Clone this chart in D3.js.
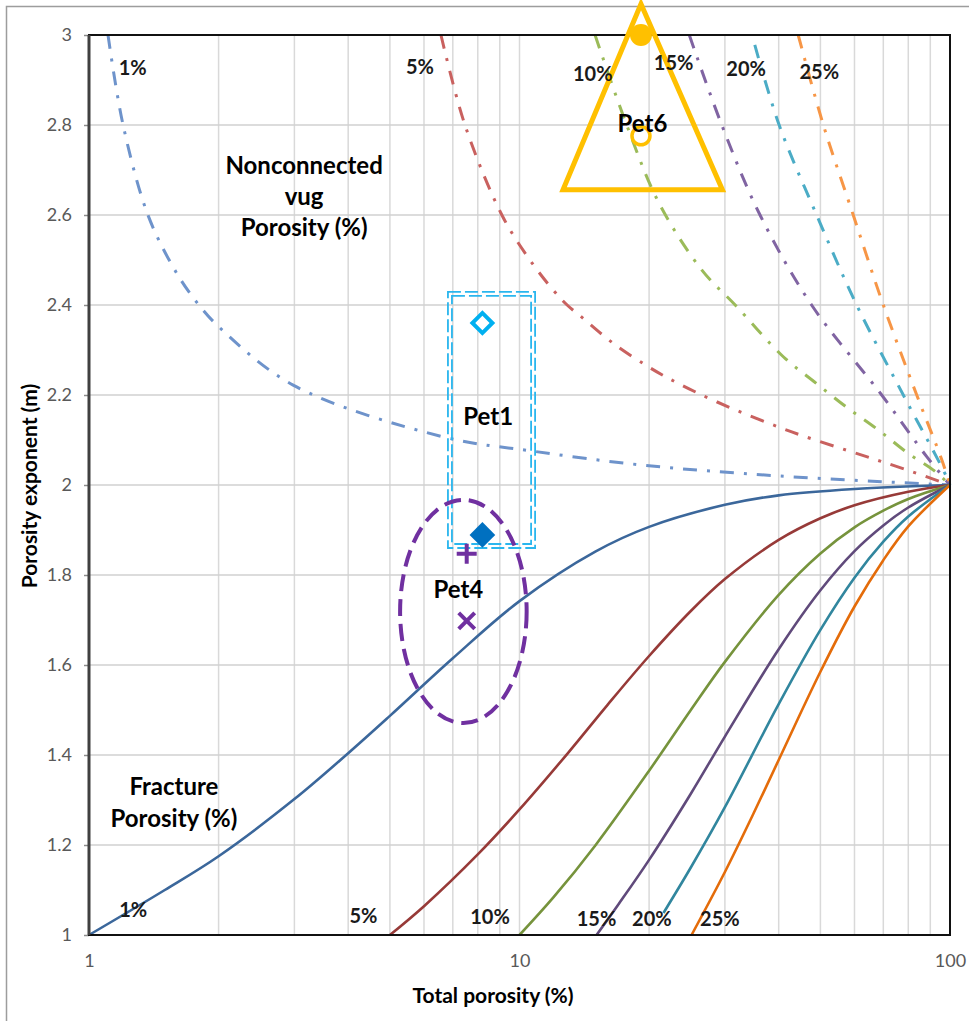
<!DOCTYPE html>
<html>
<head>
<meta charset="utf-8">
<script src="https://cdn.jsdelivr.net/npm/d3@7"></script>
<style>
body { margin: 0; background: #fff; }
svg text { font-family: Lato, "Open Sans", sans-serif; }
</style>
</head>
<body>
<script>
// [total porosity %, porosity exponent m]
var fracLabels = ["1%", "5%", "10%", "15%", "20%", "25%"];
var frac1 = [[1, 1], [1.5, 1.1], [2, 1.175], [3, 1.302], [4, 1.404], [5, 1.487], [7, 1.615], [10, 1.742], [15, 1.852], [20, 1.907], [30, 1.956], [40, 1.977], [60, 1.991], [100, 2]];
var frac5 = [[5, 1], [6, 1.064], [8, 1.179], [10, 1.279], [13, 1.406], [16, 1.511], [20, 1.62], [25, 1.72], [30, 1.791], [40, 1.878], [50, 1.926], [60, 1.955], [80, 1.985], [100, 2]];
var frac10 = [[10, 1], [12, 1.084], [15, 1.199], [20, 1.365], [25, 1.5], [30, 1.607], [40, 1.756], [50, 1.848], [60, 1.906], [70, 1.943], [80, 1.969], [100, 2]];
var frac15 = [[15.1, 1], [17, 1.069], [20, 1.167], [25, 1.314], [30, 1.441], [40, 1.635], [50, 1.766], [60, 1.853], [70, 1.91], [80, 1.95], [100, 2]];
var frac20 = [[21.6, 1.049], [25, 1.15], [30, 1.284], [40, 1.513], [50, 1.678], [60, 1.794], [70, 1.874], [80, 1.93], [100, 2]];
var frac25 = [[25.1, 1], [30, 1.14], [35, 1.271], [40, 1.389], [50, 1.585], [60, 1.73], [70, 1.833], [80, 1.908], [100, 2]];

var vugLabels = ["1%", "5%", "10%", "15%", "20%", "25%"];
var vug1 = [[1.107, 3], [1.2, 2.8], [1.373, 2.598], [1.6, 2.47], [1.8, 2.4], [2.0, 2.352], [2.98, 2.222], [6.65, 2.107], [10.77, 2.075], [19.4, 2.044], [40.2, 2.02], [100, 2]];
var vug5 = [[6.57, 3], [7.47, 2.8], [9.1, 2.6], [10.5, 2.504], [11.98, 2.433], [12.9, 2.4], [13.95, 2.373], [16.5, 2.315], [19.75, 2.265], [22.2, 2.237], [28.7, 2.185], [42.9, 2.118], [64, 2.063], [78.6, 2.035], [100, 2]];
var vug10 = [[14.98, 3], [17.74, 2.8], [21.1, 2.626], [26.5, 2.478], [31.7, 2.4], [41, 2.285], [48.3, 2.23], [57.3, 2.174], [68.2, 2.122], [80, 2.07], [91.5, 2.033], [100, 2]];
var vug15 = [[24.8, 3], [29.5, 2.8], [36.2, 2.6], [47.7, 2.4], [69.4, 2.2], [88.3, 2.063], [100, 2]];
var vug20 = [[35.2, 2.978], [40.1, 2.8], [49, 2.6], [60.7, 2.4], [77.9, 2.2], [96.5, 2.033], [100, 2]];
var vug25 = [[44.4, 3], [50.8, 2.8], [59.6, 2.6], [70, 2.4], [83.7, 2.2], [95.7, 2.056], [100, 2]];

// label anchors (porosity %, m)
var fracLabelPos = [[1.267, 1.056], [4.34, 1.042], [8.54, 1.041], [15.1, 1.037], [20.3, 1.037], [29.2, 1.037]];
var vugLabelPos = [[1.263, 2.927], [5.87, 2.93], [14.8, 2.913], [22.8, 2.939], [33.6, 2.926], [49.7, 2.918]];

// samples
var pet6 = [[19.15, 3.0], [19.15, 2.776]];
var pet6Triangle = [[19.15, 3.069], [12.62, 2.656], [29.6, 2.656]];
var pet1 = [[8.2, 2.36], [8.2, 1.889]];
var pet1Box = [[6.82, 2.429], [10.87, 1.86]];
var pet4 = [[7.54, 1.847], [7.54, 1.698]];
var pet4Ellipse = [[5.28, 1.967], [10.39, 1.471]];
var petNames = ["Pet6", "Pet1", "Pet4"];
var petLabelPos = [[19.3, 2.804], [8.46, 2.152], [7.21, 1.767]];

var xTicks = [1, 10, 100];
var yTicks = [1, 1.2, 1.4, 1.6, 1.8, 2, 2.2, 2.4, 2.6, 2.8, 3];
var xGrid = [2, 3, 4, 5, 6, 7, 8, 9, 10, 20, 30, 40, 50, 60, 70, 80, 90];

var fracColors = ["#3b679b", "#973a38", "#76933c", "#604a7b", "#31869e", "#e46c0a"];
var vugColors = ["#6e93cb", "#c9615f", "#9bbb59", "#8064a2", "#4bacc6", "#f79646"];

var width = 969, height = 1021;
var margin = {left: 89, right: 19, top: 35, bottom: 86};

var x = d3.scaleLog().domain([1, 100]).range([margin.left, width - margin.right]);
var y = d3.scaleLinear().domain([1, 3]).range([height - margin.bottom, margin.top]);

var svg = d3.select('body').append('svg')
    .attr('width', width)
    .attr('height', height);

svg.append('rect').attr('width', width).attr('height', height).attr('fill', '#fff');
// outer chart border
svg.append('rect')
    .attr('x', 6.5).attr('y', 6.5)
    .attr('width', width + 20).attr('height', height + 20)
    .attr('fill', 'none').attr('stroke', '#9d9d9d').attr('stroke-width', 1.5);

// grid
svg.append('g').selectAll('line').data(xGrid).enter().append('line')
    .attr('x1', function(d) { return x(d); }).attr('x2', function(d) { return x(d); })
    .attr('y1', y(1)).attr('y2', y(3))
    .attr('stroke', '#d9d9d9').attr('stroke-width', 1.5);
svg.append('g').selectAll('line').data(yTicks.slice(1, -1)).enter().append('line')
    .attr('x1', x(1)).attr('x2', x(100))
    .attr('y1', function(d) { return y(d); }).attr('y2', function(d) { return y(d); })
    .attr('stroke', '#d0d0d0').attr('stroke-width', 1.5);

var line = d3.line()
    .x(function(d) { return x(d[0]); })
    .y(function(d) { return y(d[1]); })
    .curve(d3.curveCatmullRom.alpha(0.5));

var vugCurves = [vug1, vug5, vug10, vug15, vug20, vug25];
var fracCurves = [frac1, frac5, frac10, frac15, frac20, frac25];

svg.append('g').selectAll('path').data(vugCurves).enter().append('path')
    .attr('d', line)
    .attr('fill', 'none')
    .attr('stroke', function(d, i) { return vugColors[i]; })
    .attr('stroke-width', 3)
    .attr('stroke-dasharray', '14,10,3,10');

svg.append('g').selectAll('path').data(fracCurves).enter().append('path')
    .attr('d', line)
    .attr('fill', 'none')
    .attr('stroke', function(d, i) { return fracColors[i]; })
    .attr('stroke-width', 2.6);

// axes
var yAxis = svg.append('g')
    .attr('transform', 'translate(' + x(1) + ',0)')
    .call(d3.axisLeft(y).tickValues(yTicks).tickSize(5).tickPadding(12)
        .tickFormat(function(d) { return d3.format('~g')(+d.toFixed(1)); }));
yAxis.select('.domain').remove();
yAxis.selectAll('line').attr('stroke', '#8c8c8c').attr('stroke-width', 1.5);
yAxis.selectAll('text').attr('fill', '#595959').style('font-size', '18px');

var xAxis = svg.append('g')
    .attr('transform', 'translate(0,' + y(1) + ')')
    .call(d3.axisBottom(x).tickValues(xTicks).tickSize(0).tickPadding(19).tickFormat(d3.format('d')));
xAxis.select('.domain').remove();
xAxis.selectAll('text').attr('fill', '#595959').style('font-size', '18px');

// plot frame
svg.append('rect')
    .attr('x', x(1)).attr('y', y(3))
    .attr('width', x(100) - x(1)).attr('height', y(1) - y(3))
    .attr('fill', 'none').attr('stroke', '#111').attr('stroke-width', 2);
svg.append('line')
    .attr('x1', x(1)).attr('x2', x(1)).attr('y1', y(3)).attr('y2', y(1))
    .attr('stroke', '#404040').attr('stroke-width', 3);

svg.append('text')
    .attr('x', 493).attr('y', 1003)
    .attr('text-anchor', 'middle')
    .style('font-size', '21px').style('font-weight', 'bold')
    .text('Total porosity (%)');
svg.append('text')
    .attr('transform', 'translate(37,' + ((y(1) + y(3)) / 2 + 1) + ') rotate(-90)')
    .attr('text-anchor', 'middle')
    .style('font-size', '21px').style('font-weight', 'bold')
    .text('Porosity exponent (m)');

// Pet1 box (double dashed)
[0, 4].forEach(function(inset) {
  svg.append('rect')
      .attr('x', x(pet1Box[0][0]) + inset).attr('y', y(pet1Box[0][1]) + inset)
      .attr('width', x(pet1Box[1][0]) - x(pet1Box[0][0]) - 2 * inset)
      .attr('height', y(pet1Box[1][1]) - y(pet1Box[0][1]) - 2 * inset)
      .attr('fill', 'none').attr('stroke', '#2ab6ee').attr('stroke-width', 1.8)
      .attr('stroke-dasharray', '13,4');
});

// Pet4 ellipse
svg.append('ellipse')
    .attr('cx', (x(pet4Ellipse[0][0]) + x(pet4Ellipse[1][0])) / 2)
    .attr('cy', (y(pet4Ellipse[0][1]) + y(pet4Ellipse[1][1])) / 2)
    .attr('rx', (x(pet4Ellipse[1][0]) - x(pet4Ellipse[0][0])) / 2)
    .attr('ry', (y(pet4Ellipse[1][1]) - y(pet4Ellipse[0][1])) / 2)
    .attr('fill', 'none').attr('stroke', '#7030a0').attr('stroke-width', 4)
    .attr('stroke-dasharray', '17,8');

// Pet6 triangle
svg.append('path')
    .datum(pet6Triangle)
    .attr('d', function(d) { return 'M' + d.map(function(p) { return x(p[0]) + ',' + y(p[1]); }).join('L') + 'Z'; })
    .attr('fill', 'none').attr('stroke', '#ffc000').attr('stroke-width', 5)
    .attr('stroke-linejoin', 'miter');

// markers
svg.append('circle').attr('cx', x(pet6[0][0])).attr('cy', y(pet6[0][1])).attr('r', 11).attr('fill', '#ffc000');
svg.append('circle').attr('cx', x(pet6[1][0])).attr('cy', y(pet6[1][1])).attr('r', 9)
    .attr('fill', 'none').attr('stroke', '#ffc000').attr('stroke-width', 3.5);

var diamond = d3.symbol().type(d3.symbolSquare);
svg.append('path').attr('d', diamond.size(200)())
    .attr('transform', 'translate(' + x(pet1[0][0]) + ',' + y(pet1[0][1]) + ') rotate(45)')
    .attr('fill', '#fff').attr('stroke', '#00b0f0').attr('stroke-width', 4);
svg.append('path').attr('d', diamond.size(330)())
    .attr('transform', 'translate(' + x(pet1[1][0]) + ',' + y(pet1[1][1]) + ') rotate(45)')
    .attr('fill', '#0070c0');

svg.append('path').attr('d', 'M-10,0H10M0,-10V10')
    .attr('transform', 'translate(' + x(pet4[0][0]) + ',' + y(pet4[0][1]) + ')')
    .attr('stroke', '#7030a0').attr('stroke-width', 4);
svg.append('path').attr('d', 'M-8,-8L8,8M-8,8L8,-8')
    .attr('transform', 'translate(' + x(pet4[1][0]) + ',' + y(pet4[1][1]) + ')')
    .attr('stroke', '#7030a0').attr('stroke-width', 4);

// curve labels
function pctLabels(labels, pos) {
  svg.append('g').selectAll('text').data(labels).enter().append('text')
      .attr('x', function(d, i) { return x(pos[i][0]); })
      .attr('y', function(d, i) { return y(pos[i][1]); })
      .attr('dy', '0.36em')
      .attr('text-anchor', 'middle')
      .attr('fill', '#1a1a1a')
      .style('font-size', '20px').style('font-weight', 'bold')
      .text(function(d) { return d; });
}
pctLabels(fracLabels, fracLabelPos);
pctLabels(vugLabels, vugLabelPos);

svg.append('g').selectAll('text').data(petNames).enter().append('text')
    .attr('x', function(d, i) { return x(petLabelPos[i][0]); })
    .attr('y', function(d, i) { return y(petLabelPos[i][1]); })
    .attr('dy', '0.36em')
    .attr('text-anchor', 'middle')
    .style('font-size', '24px').style('font-weight', 'bold')
    .text(function(d) { return d; });

// region notes
var vugNote = svg.append('text')
    .attr('x', x(3.16)).attr('y', y(2.691))
    .attr('text-anchor', 'middle')
    .style('font-size', '24px').style('font-weight', 'bold');
['Nonconnected', 'vug', 'Porosity (%)'].forEach(function(t, i) {
  vugNote.append('tspan').attr('x', x(3.16)).attr('dy', i ? 31 : 0).text(t);
});
var fracNote = svg.append('text')
    .attr('x', x(1.575)).attr('y', y(1.311))
    .attr('text-anchor', 'middle')
    .style('font-size', '24px').style('font-weight', 'bold');
['Fracture', 'Porosity (%)'].forEach(function(t, i) {
  fracNote.append('tspan').attr('x', x(1.575)).attr('dy', i ? 32 : 0).text(t);
});
</script>
</body>
</html>
